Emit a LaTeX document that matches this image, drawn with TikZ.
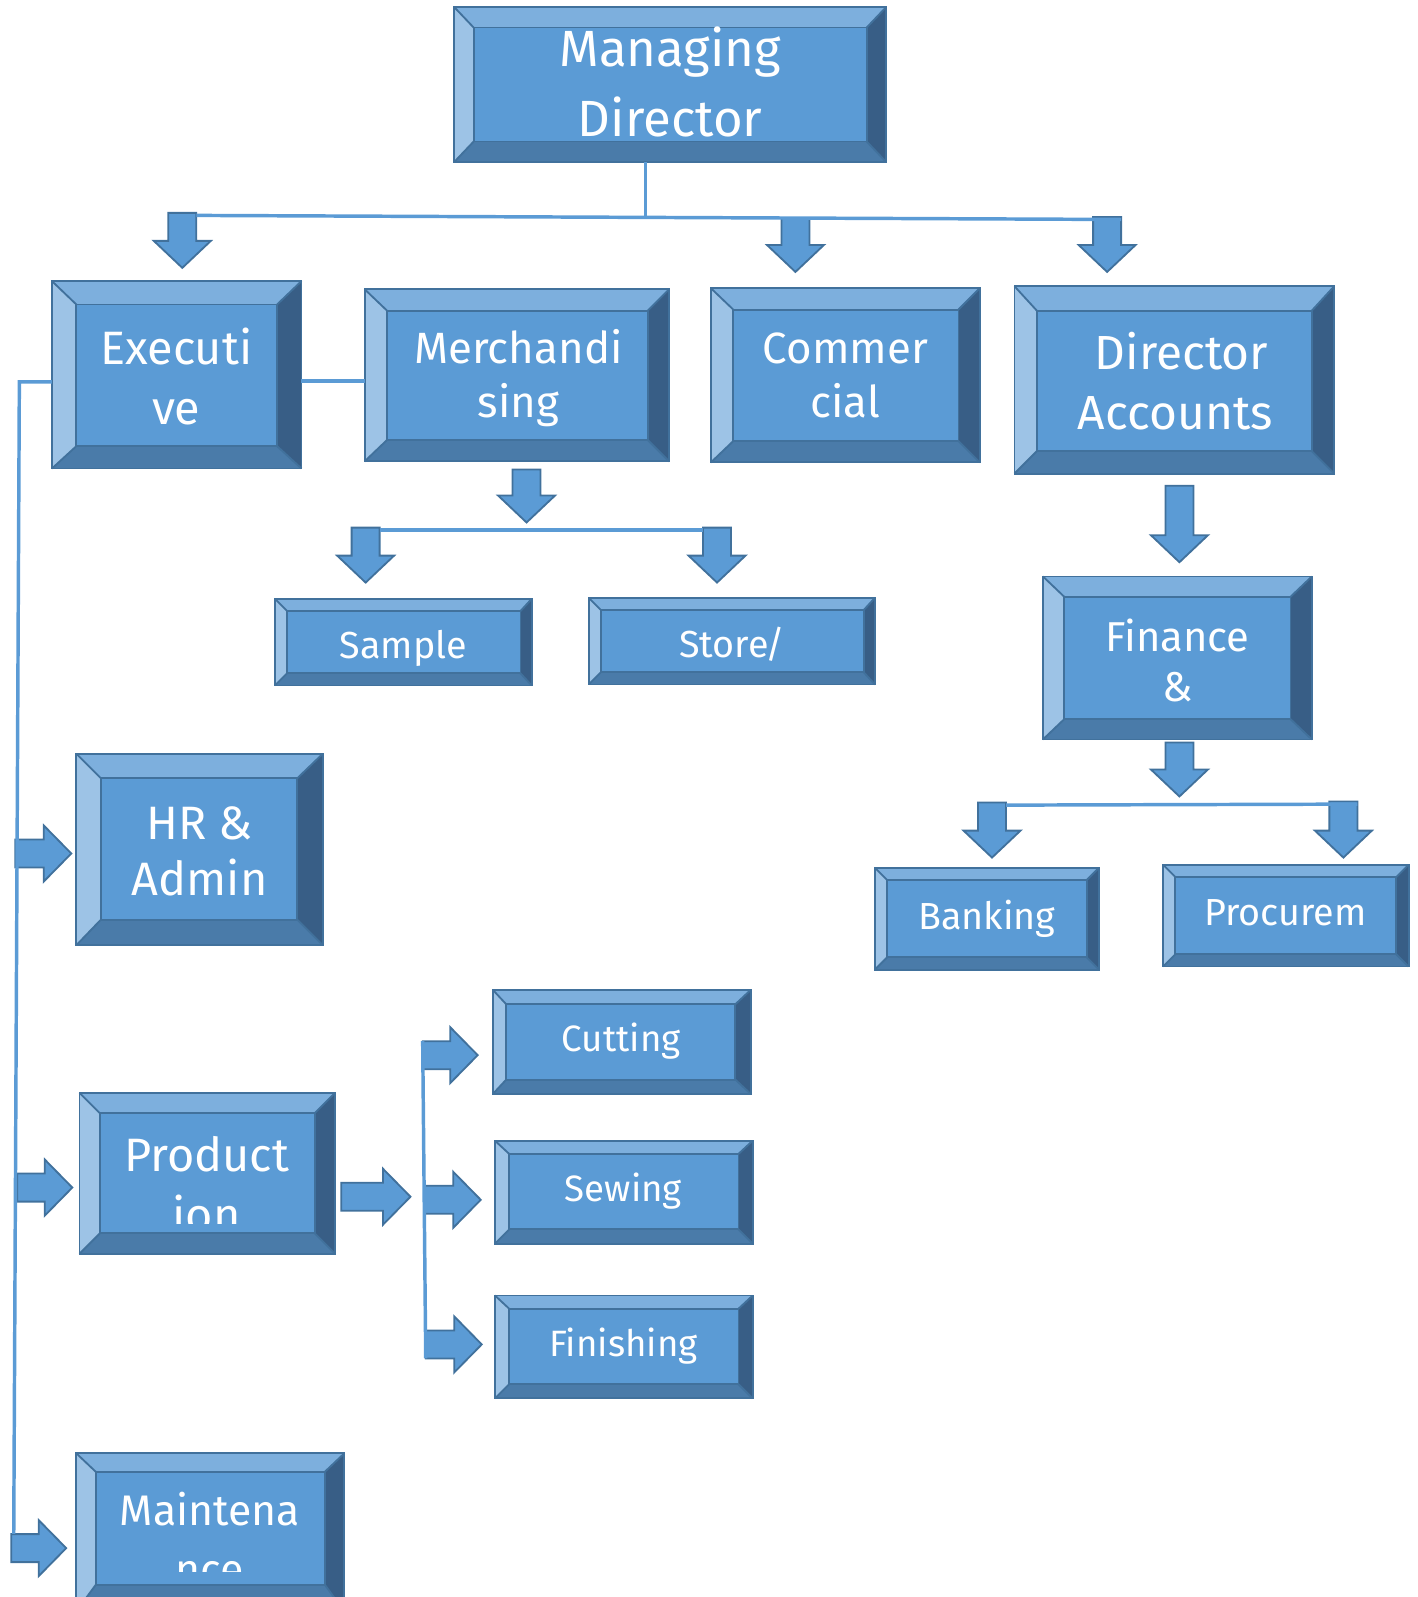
\documentclass[tikz,border=0pt]{standalone}
\usepackage{fontspec}
\setmainfont{Fira Sans}
\usetikzlibrary{fit}
\definecolor{bvface}{HTML}{5B9BD5}
\definecolor{bvtop}{HTML}{7DAFDD}
\definecolor{bvleft}{HTML}{9DC3E6}
\definecolor{bvright}{HTML}{385E86}
\definecolor{bvbot}{HTML}{4A7BA9}
\definecolor{bvedge}{HTML}{41719C}
\definecolor{connblue}{HTML}{5B9BD5}
\tikzset{
  bvline/.style={draw=bvedge, line width=0.9pt, line join=miter},
  barrow/.style={fill=bvface, draw=bvedge, line width=0.9pt, line join=miter},
  conn/.style={draw=connblue, line width=1.7pt},
  txt/.style={text=white, inner sep=0pt, anchor=base},
  boxnode/.style={inner sep=0pt, draw=none}
}
% name, ox1, oy1, ox2, oy2, ix1, iy1, ix2, iy2
\newcommand\bevbox[9]{%
  \fill[bvtop] (#2,#3) -- (#4,#3) -- (#8,#7) -- (#6,#7) -- cycle;
  \fill[bvleft] (#2,#3) -- (#6,#7) -- (#6,#9) -- (#2,#5) -- cycle;
  \fill[bvright] (#4,#3) -- (#4,#5) -- (#8,#9) -- (#8,#7) -- cycle;
  \fill[bvbot] (#2,#5) -- (#4,#5) -- (#8,#9) -- (#6,#9) -- cycle;
  \fill[bvface] (#6,#7) rectangle (#8,#9);
  \draw[bvline] (#2,#3) rectangle (#4,#5);
  \draw[bvline] (#6,#7) rectangle (#8,#9);
  \draw[bvline] (#2,#3) -- (#6,#7) (#4,#3) -- (#8,#7) (#2,#5) -- (#6,#9) (#4,#5) -- (#8,#9);
  \coordinate (#1-nw) at (#2,#3);
  \coordinate (#1-se) at (#4,#5);
  \node[boxnode, fit=(#1-nw)(#1-se)] (#1) {};
}
% down arrow: name, cx, top, tip
\newcommand\darrow[4]{%
  \draw[barrow] (#2-13.75,#3) -- (#2+13.75,#3) -- (#2+13.75,#4-26.5) -- (#2+28,#4-26.5)
    -- (#2,#4) -- (#2-28,#4-26.5) -- (#2-13.75,#4-26.5) -- cycle;
  \coordinate (#1) at (#2,#3);
  \coordinate (#1-l) at (#2-13.75,#3+2.5);
  \coordinate (#1-r) at (#2+13.75,#3+2.5);
}
% right arrow: name, left, cy, tip
\newcommand\rarrow[4]{%
  \draw[barrow] (#2,#3-13.75) -- (#4-27,#3-13.75) -- (#4-27,#3-27.5) -- (#4,#3)
    -- (#4-27,#3+27.5) -- (#4-27,#3+13.75) -- (#2,#3+13.75) -- cycle;
  \coordinate (#1) at (#2,#3);
  \coordinate (#1-t) at (#2,#3-13.75);
  \coordinate (#1-b) at (#2,#3+13.75);
}
\begin{document}
\begin{tikzpicture}[x=0.5pt, y=-0.5pt]
\useasboundingbox (0,0) rectangle (1392,1568);

% boxes
\bevbox{md}{446}{7}{870}{159}{465}{27}{851}{139}
\bevbox{exec}{51}{276}{296}{460}{75}{299}{272}{438}
\bevbox{merch}{358}{284}{657}{453}{380}{305}{636}{432}
\bevbox{comm}{698}{283}{962}{454}{720}{304}{941}{433}
\bevbox{da}{996}{281}{1310}{465}{1018}{305}{1288}{443}
\bevbox{samp}{270}{588}{522}{673}{282}{600}{511}{661}
\bevbox{store}{578}{587}{859}{672}{590}{599}{848}{660}
\bevbox{fin}{1024}{566}{1288}{726}{1045}{586}{1267}{706}
\bevbox{bank}{859}{852}{1079}{952}{871}{864}{1067}{940}
\bevbox{proc}{1142}{849}{1383}{949}{1154}{861}{1371}{937}
\bevbox{hr}{75}{740}{317}{928}{99}{764}{292}{903}
\bevbox{prod}{78}{1073}{329}{1231}{98}{1093}{309}{1211}
\bevbox{cut}{484}{972}{737}{1074}{497}{986}{722}{1060}
\bevbox{sew}{486}{1120}{739}{1221}{500}{1133}{725}{1207}
\bevbox{finish}{486}{1272}{739}{1373}{500}{1285}{725}{1359}
\bevbox{maint}{75}{1427}{338}{1582}{94}{1445}{319}{1556}

% arrows
\darrow{a-exec}{179}{209}{263}
\darrow{a-comm}{781}{214}{267}
\darrow{a-da}{1087}{213}{267}
\darrow{a-merch}{517}{461}{513}
\darrow{a-samp}{359}{518}{572}
\darrow{a-store}{704}{518}{572}
\darrow{a-dafin}{1158}{477}{552}
\darrow{a-finbp}{1158}{729}{782}
\darrow{a-bank}{974}{788}{842}
\darrow{a-proc}{1319}{787}{842}
\rarrow{a-hr}{15}{838}{70}
\rarrow{a-prod}{17}{1166}{71}
\rarrow{a-maint}{11}{1520}{65}
\rarrow{a-prodr}{335}{1175}{403}
\rarrow{a-cut}{415}{1036}{469}
\rarrow{a-sew}{417}{1178}{472}
\rarrow{a-fin}{418}{1320}{473}

% connector coordinates
\coordinate (md-out) at (634,159);
\coordinate (md-join) at (634,215);
\coordinate (exec-w) at (51,375);
\coordinate (exec-e) at (296,374);
\coordinate (merch-w) at (358,374);
\coordinate (left-top) at (19,375);
\coordinate (left-bot) at (13.5,1506);

% connectors
\draw[conn] (md-out) -- (md-join);
\draw[conn] (a-exec-r) -- (a-da-r);
\draw[conn] (exec-e) -- (merch-w);
\draw[conn] (exec-w) -- (left-top) -- (left-bot);
\draw[conn] (a-samp-r) -- (a-store-l);
\draw[conn] (a-bank-r) -- (a-proc-r);
\draw[conn] (a-cut-t) -- (a-fin-b);

% texts
\begin{scope}[every node/.style={txt}]
\fontsize{25}{30}\selectfont
\node (md-t1) at (658,65.5) {Managing};
\node (md-t2) at (658,134) {Director};
\end{scope}
\begin{scope}[every node/.style={txt}]
\fontsize{23}{28}\selectfont
\node (exec-t1) at (173,358) {Executi};
\node (exec-t2) at (173,417) {ve};
\node (hr-t1) at (196,824) {HR \&};
\node (hr-t2) at (196,879) {Admin};
\end{scope}
\begin{scope}[every node/.style={txt}]
\fontsize{23.5}{28}\selectfont
\node (da-t1) at (1160,363) {Director};
\node (da-t2) at (1154,422) {Accounts};
\end{scope}
\begin{scope}[every node/.style={txt}]
\fontsize{21.5}{26}\selectfont
\node (merch-t1) at (509,357) {Merchandi};
\node (merch-t2) at (509,410) {sing};
\node (comm-t1) at (830,357) {Commer};
\node (comm-t2) at (830,410) {cial};
\end{scope}
\begin{scope}[every node/.style={txt}]
\fontsize{20.5}{25}\selectfont
\node (fin-t1) at (1156,640) {Finance};
\node (fin-t2) at (1156,689) {\&};
\end{scope}
\begin{scope}[every node/.style={txt}]
\fontsize{18.5}{22}\selectfont
\node (samp-t) at (396,647) {Sample};
\node (store-t) at (719,646) {Store\kern-1.5pt/};
\node (bank-t) at (969,913) {Banking};
\node (proc-t) at (1262,909) {Procurem};
\end{scope}
\begin{scope}[every node/.style={txt}]
\fontsize{18}{22}\selectfont
\node (cut-t) at (610,1032) {Cutting};
\node (sew-t) at (612,1180) {Sewing};
\node (finish-t) at (612,1332) {Finishing};
\end{scope}
\begin{scope}[every node/.style={txt}]
\clip (98,1093) rectangle (309,1201);
\fontsize{23}{28}\selectfont
\node (prod-t1) at (203,1150) {Product};
\node (prod-t2) at (203,1209) {ion};
\end{scope}
\begin{scope}[every node/.style={txt}]
\clip (94,1445) rectangle (319,1543);
\fontsize{21}{26}\selectfont
\node (maint-t1) at (206,1498) {Maintena};
\node (maint-t2) at (206,1556) {nce};
\end{scope}
\end{tikzpicture}
\end{document}
